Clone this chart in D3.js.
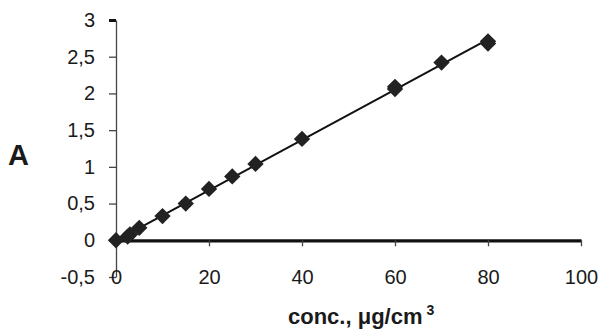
<!DOCTYPE html>
<html>
<head>
<meta charset="utf-8">
<script src="https://cdn.jsdelivr.net/npm/d3@7"></script>
<style>
body { margin: 0; background: #fff; }
svg text { font-family: "Liberation Sans", Arial, sans-serif; fill: #1a1a1a; }
</style>
</head>
<body>
<script>
var width = 601
var height = 329

// calibration points
var conc = [0, 2.5, 3, 5, 10, 15, 20, 25, 30, 40, 60, 60, 70, 80, 80]
var absorb = [0, 0.05, 0.08, 0.17, 0.33, 0.5, 0.7, 0.87, 1.04, 1.38, 2.06, 2.09, 2.42, 2.68, 2.71]

var xTicks = [0, 20, 40, 60, 80, 100]
var yTicks = [-0.5, 0, 0.5, 1, 1.5, 2, 2.5, 3]

var svg = d3.select("body")
    .append("svg")
    .attr("width", width)
    .attr("height", height);

var x_scale = d3.scaleLinear()
    .domain([0, 100])
    .range([116, 581]);

var y_scale = d3.scaleLinear()
    .domain([-0.5, 3])
    .range([277, 20]);

var fmt = (d) => String(d).replace(".", ",")

// y axis
var y_axis = d3.axisLeft(y_scale)
    .tickValues(yTicks)
    .tickFormat(fmt)
    .tickSize(7)
    .tickSizeOuter(0);

var gy = svg.append("g")
    .attr("transform", "translate(" + x_scale(0) + ",0)")
    .call(y_axis);
gy.select(".domain").attr("stroke", "#444").attr("stroke-width", 1.3);
gy.selectAll(".tick line").attr("stroke", "#444").attr("stroke-width", 1.3);
gy.selectAll(".tick text")
    .attr("x", -21)
    .style("font-size", "20px");
// top tick is heavier
gy.selectAll(".tick line").filter((d) => d === 3).attr("stroke-width", 3).attr("stroke", "#111");

// x axis sits at y = 0
var x_axis = d3.axisBottom(x_scale)
    .tickValues(xTicks)
    .tickFormat((d) => d)
    .tickSize(6)
    .tickSizeOuter(0);

var gx = svg.append("g")
    .attr("transform", "translate(0," + y_scale(0) + ")")
    .call(x_axis);
gx.select(".domain").attr("stroke", "#111").attr("stroke-width", 3.2);
gx.selectAll(".tick line").attr("stroke", "#444").attr("stroke-width", 1.3);
gx.selectAll(".tick text")
    .attr("y", 30)
    .style("font-size", "20px");

// least squares trend line through the points
var mx = d3.mean(conc), my = d3.mean(absorb)
var sxy = d3.sum(conc, (c, i) => (c - mx) * (absorb[i] - my))
var sxx = d3.sum(conc, (c) => (c - mx) * (c - mx))
var slope = sxy / sxx
var inter = my - slope * mx
var xr = d3.extent(conc)

svg.append("line")
    .attr("x1", x_scale(xr[0]))
    .attr("y1", y_scale(inter + slope * xr[0]))
    .attr("x2", x_scale(xr[1]))
    .attr("y2", y_scale(inter + slope * xr[1]))
    .attr("stroke", "#111")
    .attr("stroke-width", 2);

svg.selectAll("path.pt")
    .data(conc)
    .enter()
    .append("path")
    .attr("class", "pt")
    .attr("d", d3.symbol().type(d3.symbolDiamond2).size(170))
    .attr("transform", (d, i) => "translate(" + x_scale(d) + "," + y_scale(absorb[i]) + ")")
    .attr("fill", "#222");

// axis titles
svg.append("text")
    .attr("x", 8)
    .attr("y", 165)
    .style("font-size", "29px")
    .style("font-weight", "bold")
    .text("A");

var xt = svg.append("text")
    .attr("x", 288)
    .attr("y", 324)
    .style("font-size", "22px")
    .style("font-weight", "bold")
    .text("conc., μg/cm");
xt.append("tspan")
    .attr("dy", -9)
    .attr("dx", 4)
    .style("font-size", "14px")
    .text("3");
</script>
</body>
</html>
